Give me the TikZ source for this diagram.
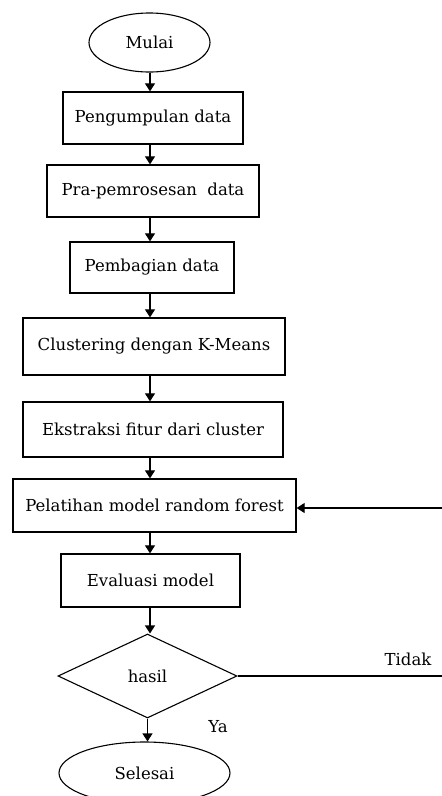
\documentclass[tikz,border=0pt]{standalone}
\usepackage{fontspec}
\setmainfont{DejaVu Serif}
\usetikzlibrary{shapes.geometric,arrows.meta}
\begin{document}
\begin{tikzpicture}[x=1pt,y=-1pt,
  every node/.style={font=\fontsize{16.5}{19}\selectfont},
  box/.style={draw,line width=1.3pt,rectangle,inner sep=0pt},
  term/.style={draw,line width=1.1pt,ellipse,inner sep=0pt},
  arr/.style={line width=1.2pt,-{Triangle[length=8pt,width=10pt]}},
  plain/.style={line width=1.1pt}]
\useasboundingbox (0,0) rectangle (442,796);
\node[term,minimum width=121pt,minimum height=59pt] (mulai) at (149.5,42.5) {Mulai};
\node[box,minimum width=180pt,minimum height=52pt] (b1) at (153,118) {Pengumpulan data};
\node[box,minimum width=212pt,minimum height=52pt] (b2) at (153,191) {Pra-pemrosesan\ \ data};
\node[box,minimum width=164pt,minimum height=51pt] (b3) at (152,267.5) {Pembagian data};
\node[box,minimum width=262pt,minimum height=57pt] (b4) at (154,346.5) {Clustering dengan K-Means};
\node[box,minimum width=260pt,minimum height=55pt] (b5) at (153,429.5) {Ekstraksi fitur dari cluster};
\node[box,minimum width=283pt,minimum height=53pt] (b6) at (154.5,505.5) {Pelatihan model random forest};
\node[box,minimum width=179pt,minimum height=53pt] (b7) at (150.5,580.5) {Evaluasi model};
\node[draw,line width=1.1pt,diamond,inner sep=0pt,minimum width=179pt,minimum height=84pt,aspect=2.1] (hasil) at (147.5,676) {hasil};
\node[term,minimum width=171pt,minimum height=62pt] (selesai) at (144.5,773) {Selesai};
\node (tidak) at (408,659) {Tidak};
\node (ya) at (218,727) {Ya};
\coordinate (ax) at (150,0);
\coordinate (r1) at (446,676);
\coordinate (r2) at (446,508);
\draw[arr] (mulai.south -| ax) -- (b1.north -| ax);
\draw[arr] (b1.south -| ax) -- (b2.north -| ax);
\draw[arr] (b2.south -| ax) -- (b3.north -| ax);
\draw[arr] (b3.south -| ax) -- (b4.north -| ax);
\draw[arr] (b4.south -| ax) -- (b5.north -| ax);
\draw[arr] (b5.south -| ax) -- (b6.north -| ax);
\draw[arr] (b6.south -| ax) -- (b7.north -| ax);
\draw[arr] (b7.south -| ax) -- (hasil.north -| ax);
\draw[arr] (hasil.south) -- (selesai.north -| hasil.south);
\draw[plain] (hasil.east) -- (r1) -- (r2);
\draw[arr] (r2) -- (b6.east |- r2);
\end{tikzpicture}
\end{document}
